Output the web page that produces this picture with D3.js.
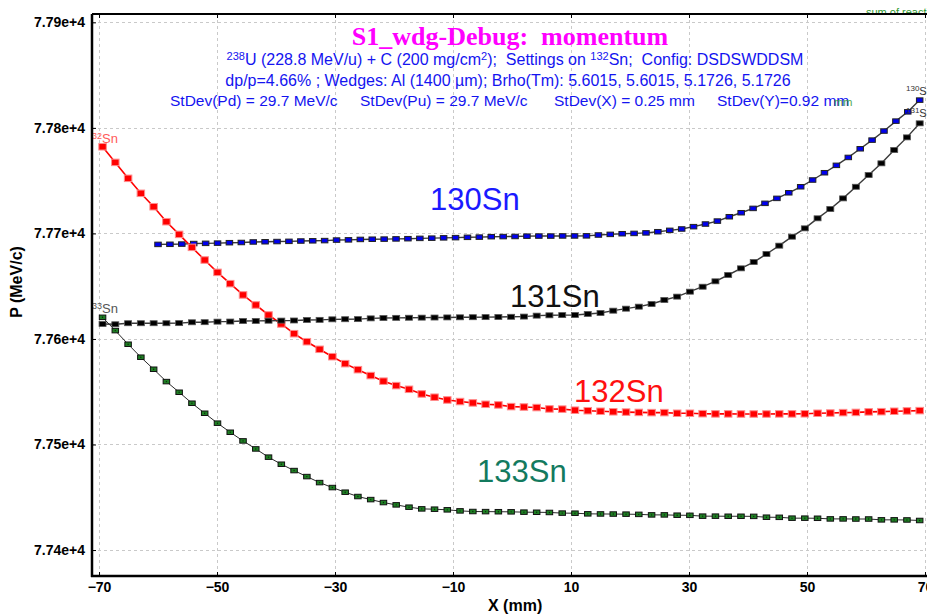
<!DOCTYPE html>
<html>
<head>
<meta charset="utf-8">
<script src="https://cdn.jsdelivr.net/npm/d3@7"></script>
<style>
  html, body { margin: 0; padding: 0; background: #fff; }
  svg { display: block; }
  text { white-space: pre; }
</style>
</head>
<body>
<svg id="chart" width="927" height="616"></svg>
<script>
// Axis ticks
const xTicks = [-70, -50, -30, -10, 10, 30, 50, 70];
const yTicks = [77400, 77500, 77600, 77700, 77800, 77900];

// X sample positions (mm) for 131Sn, 132Sn, 133Sn
const xSamples = [
  -69.40, -67.24, -65.07, -62.91, -60.74, -58.58, -56.42, -54.25, -52.09, -49.92,
  -47.76, -45.59, -43.43, -41.27, -39.10, -36.94, -34.77, -32.61, -30.45, -28.28,
  -26.12, -23.95, -21.79, -19.63, -17.46, -15.30, -13.13, -10.97, -8.81, -6.64,
  -4.48, -2.31, -0.15, 2.02, 4.18, 6.34, 8.51, 10.67, 12.84, 15.00,
  17.16, 19.33, 21.49, 23.66, 25.82, 27.99, 30.15, 32.31, 34.48, 36.64,
  38.81, 40.97, 43.13, 45.30, 47.46, 49.63, 51.79, 53.95, 56.12, 58.28,
  60.45, 62.61, 64.78, 66.94, 69.10
];

// X sample positions (mm) for 130Sn
const xSamples130 = [
  -60.00, -57.98, -55.97, -53.95, -51.93, -49.91, -47.90, -45.88, -43.86, -41.85,
  -39.83, -37.81, -35.79, -33.78, -31.76, -29.74, -27.72, -25.71, -23.69, -21.67,
  -19.66, -17.64, -15.62, -13.60, -11.59, -9.57, -7.55, -5.54, -3.52, -1.50,
  0.52, 2.53, 4.55, 6.57, 8.58, 10.60, 12.62, 14.64, 16.65, 18.67,
  20.69, 22.71, 24.72, 26.74, 28.76, 30.77, 32.79, 34.81, 36.83, 38.84,
  40.86, 42.88, 44.90, 46.91, 48.93, 50.95, 52.96, 54.98, 57.00, 59.02,
  61.03, 63.05, 65.07, 67.08, 69.10
];

// Momentum P (MeV/c) per isotope
const p130 = [
  77689.6, 77689.7, 77689.9, 77690.4, 77690.6, 77690.8, 77691.2, 77691.4, 77691.9, 77692.1,
  77692.3, 77692.5, 77692.8, 77693.0, 77693.2, 77693.7, 77693.9, 77694.3, 77694.5, 77694.6,
  77694.8, 77695.0, 77695.3, 77695.5, 77695.8, 77696.0, 77696.3, 77696.5, 77696.9, 77697.0,
  77697.1, 77697.4, 77697.5, 77697.5, 77697.6, 77697.6, 77697.7, 77698.5, 77699.1, 77699.7,
  77700.0, 77700.5, 77701.6, 77702.9, 77704.2, 77706.4, 77708.9, 77711.7, 77715.8, 77719.6,
  77723.7, 77728.5, 77733.2, 77738.5, 77744.2, 77750.6, 77757.5, 77764.5, 77772.0, 77780.2,
  77788.4, 77797.0, 77806.4, 77815.2, 77826.3
];
const p131 = [
  77614.2, 77613.9, 77614.9, 77614.9, 77614.9, 77614.9, 77615.0, 77615.8, 77615.9, 77616.4,
  77616.5, 77617.0, 77617.1, 77617.3, 77617.4, 77617.5, 77618.0, 77618.1, 77618.6, 77618.7,
  77618.8, 77619.5, 77619.8, 77620.0, 77620.1, 77620.2, 77620.3, 77620.4, 77620.5, 77620.6,
  77620.7, 77620.8, 77621.0, 77621.2, 77622.1, 77622.4, 77622.6, 77622.7, 77623.7, 77624.6,
  77626.8, 77628.7, 77630.6, 77633.1, 77636.9, 77640.1, 77644.8, 77649.5, 77654.6, 77660.6,
  77666.9, 77672.9, 77680.5, 77688.4, 77696.9, 77704.8, 77714.3, 77723.1, 77733.2, 77744.2,
  77755.3, 77766.4, 77779.0, 77791.0, 77804.3
];
const p132 = [
  77782.1, 77767.3, 77752.2, 77738.0, 77725.3, 77711.1, 77699.1, 77686.8, 77674.8, 77663.1,
  77652.4, 77641.7, 77632.2, 77622.7, 77614.2, 77605.0, 77597.4, 77590.2, 77583.2, 77576.6,
  77570.9, 77565.3, 77560.0, 77555.8, 77552.3, 77547.9, 77544.8, 77542.2, 77540.7, 77539.4,
  77538.1, 77537.5, 77535.9, 77535.5, 77535.0, 77533.7, 77533.5, 77532.5, 77532.0, 77531.5,
  77531.0, 77530.7, 77530.4, 77530.2, 77530.2, 77529.6, 77529.6, 77529.2, 77529.0, 77529.0,
  77528.9, 77528.9, 77528.9, 77529.0, 77529.0, 77529.1, 77529.6, 77529.8, 77530.2, 77530.4,
  77530.9, 77531.1, 77531.5, 77531.8, 77532.1
];
const p133 = [
  77620.5, 77607.9, 77595.0, 77582.7, 77571.3, 77559.6, 77549.5, 77539.1, 77529.6, 77520.2,
  77511.6, 77503.4, 77495.8, 77488.0, 77481.3, 77475.3, 77469.6, 77463.9, 77459.2, 77454.8,
  77450.7, 77447.8, 77445.0, 77442.8, 77440.6, 77439.0, 77438.7, 77438.1, 77437.1, 77436.5,
  77436.4, 77436.3, 77436.2, 77435.9, 77435.8, 77435.6, 77435.0, 77434.9, 77434.3, 77434.2,
  77434.1, 77434.0, 77433.8, 77433.3, 77433.3, 77433.0, 77432.9, 77432.1, 77432.1, 77432.0,
  77432.0, 77431.9, 77431.1, 77431.0, 77430.2, 77430.2, 77430.1, 77429.5, 77429.5, 77429.4,
  77429.4, 77428.6, 77428.6, 77428.5, 77428.0
];

const SANS = "'Liberation Sans', Arial, sans-serif";
const svg = d3.select("#chart");
const plot = { left: 92, right: 926, top: 14, bottom: 576 };

const x = d3.scaleLinear().domain([-71.19, 70.17]).range([plot.left, plot.right]);
const y = d3.scaleLinear().domain([77375.4, 77907.9]).range([plot.bottom, plot.top]);

svg.append("rect").attr("width", 927).attr("height", 616).attr("fill", "#fff");

const defs = svg.append("defs");
defs.append("clipPath").attr("id", "plotClip")
  .append("rect").attr("x", plot.left + 1).attr("y", plot.top + 1)
  .attr("width", 927 - plot.left).attr("height", plot.bottom - plot.top - 2);
defs.append("clipPath").attr("id", "topClip")
  .append("rect").attr("x", 0).attr("y", 0).attr("width", 927).attr("height", 13);

// small caption peeking above the frame
svg.append("text").attr("x", 866).attr("y", 16)
  .attr("clip-path", "url(#topClip)")
  .attr("font-family", SANS).attr("font-size", 11).attr("fill", "#2f9a2f")
  .text("sum of reactions");

// dashed grid
const grid = svg.append("g").attr("stroke", "#c9c9c9").attr("stroke-dasharray", "3,3").attr("stroke-width", 1);
grid.selectAll("line.v").data(xTicks).join("line").attr("class", "v")
  .attr("x1", d => Math.round(x(d)) + 0.5).attr("x2", d => Math.round(x(d)) + 0.5)
  .attr("y1", plot.top).attr("y2", plot.bottom);
grid.selectAll("line.h").data(yTicks).join("line").attr("class", "h")
  .attr("y1", d => Math.round(y(d)) + 0.5).attr("y2", d => Math.round(y(d)) + 0.5)
  .attr("x1", plot.left).attr("x2", plot.right);

// titles
svg.append("text").attr("x", 510).attr("y", 45).attr("text-anchor", "middle")
  .attr("font-family", "'Liberation Serif', 'Times New Roman', serif")
  .attr("font-weight", "bold").attr("font-size", 26).attr("fill", "#ff00ff")
  .text("S1_wdg-Debug:  momentum");

const BLUE = "#1414f0";
const sub = svg.append("g").attr("font-family", SANS).attr("font-size", 16).attr("fill", BLUE);

function richLine(parent, xPos, yPos, parts) {
  const t = parent.append("text").attr("x", xPos).attr("y", yPos).attr("text-anchor", "middle");
  let shifted = false;
  parts.forEach(p => {
    const sp = t.append("tspan").text(p.t);
    if (p.sup && !shifted) { sp.attr("dy", -5).attr("font-size", 11); shifted = true; }
    else if (p.sup) { sp.attr("font-size", 11); }
    else if (shifted) { sp.attr("dy", 5); shifted = false; }
  });
  return t;
}
richLine(sub, 515, 65, [
  { t: "238", sup: true }, { t: "U (228.8 MeV/u) + C (200 mg/cm" }, { t: "2", sup: true },
  { t: ");  Settings on " }, { t: "132", sup: true }, { t: "Sn;  Config: DSDSWDDSM" }
]);
sub.append("text").attr("x", 508).attr("y", 86).attr("text-anchor", "middle")
  .text("dp/p=4.66% ; Wedges: Al (1400 µm); Brho(Tm): 5.6015, 5.6015, 5.1726, 5.1726");
const stdevs = [
  [170, "StDev(Pd) = 29.7 MeV/c"],
  [360, "StDev(Pu) = 29.7 MeV/c"],
  [554, "StDev(X) = 0.25 mm"],
  [717, "StDev(Y)=0.92 mm"]
];
sub.selectAll("text.sd").data(stdevs).join("text").attr("class", "sd")
  .attr("x", d => d[0]).attr("y", 106).attr("font-size", 15.5).text(d => d[1]);
svg.append("text").attr("x", 834).attr("y", 106)
  .attr("font-family", SANS).attr("font-size", 11).attr("fill", "#2f9a2f").attr("opacity", 0.85)
  .text("mm");

// series
const series = [
  { xs: xSamples130, ps: p130, line: "#3a3a3a", lw: 1.4, fill: "#0000ee", stroke: "#222", sw: 1, w: 6.5, h: 4.5, dot: false },
  { xs: xSamples, ps: p132, line: "#ff0000", lw: 1.6, fill: "#ff0000", stroke: "#ff8c8c", sw: 1, w: 7.5, h: 6.5, dot: false },
  { xs: xSamples, ps: p131, line: "#3a3a3a", lw: 1.4, fill: "#000000", stroke: "#555", sw: 0.8, w: 7, h: 5, dot: false },
  { xs: xSamples, ps: p133, line: "#2a2a2a", lw: 1, fill: "#1f7f24", stroke: "#111", sw: 1, w: 6.5, h: 4.5, dot: true }
];
const lineGen = d3.line().x(d => x(d[0])).y(d => y(d[1]));
const dataLayer = svg.append("g").attr("clip-path", "url(#plotClip)");
series.forEach(s => {
  const pts = d3.zip(s.xs, s.ps);
  const g = dataLayer.append("g");
  g.append("path").datum(pts).attr("d", lineGen)
    .attr("fill", "none").attr("stroke", s.line).attr("stroke-width", s.lw);
  g.selectAll("rect").data(pts).join("rect")
    .attr("x", d => x(d[0]) - s.w / 2).attr("y", d => y(d[1]) - s.h / 2)
    .attr("width", s.w).attr("height", s.h)
    .attr("fill", s.fill).attr("stroke", s.stroke).attr("stroke-width", s.sw);
  if (s.dot) {
    g.selectAll("circle").data(pts).join("circle")
      .attr("cx", d => x(d[0])).attr("cy", d => y(d[1])).attr("r", 0.7).attr("fill", "#0a2a0a");
  }
});

// end-of-curve isotope tags
function tag(parent, xPos, yPos, mass, color, supSize, size) {
  const t = parent.append("text").attr("x", xPos).attr("y", yPos)
    .attr("font-family", SANS).attr("fill", color).attr("font-size", size);
  t.append("tspan").attr("font-size", supSize).attr("dy", -4).text(mass);
  t.append("tspan").attr("dy", 4).text("Sn");
}
tag(dataLayer, 87, 143, "132", "#ff5a5a", 9, 13);
tag(dataLayer, 87, 313, "133", "#555", 9, 13);
tag(dataLayer, 906, 95, "130", "#333", 8, 11);
tag(dataLayer, 906, 117, "131", "#333", 8, 11);

// isotope labels
const labels = [
  { t: "130Sn", x: 430, y: 210, c: "#1a1aff" },
  { t: "131Sn", x: 510, y: 307, c: "#111" },
  { t: "132Sn", x: 574, y: 402, c: "#ff1010" },
  { t: "133Sn", x: 477, y: 482, c: "#137a5e" }
];
svg.selectAll("text.iso").data(labels).join("text").attr("class", "iso")
  .attr("x", d => d.x).attr("y", d => d.y).attr("fill", d => d.c)
  .attr("font-family", SANS).attr("font-size", 31).text(d => d.t);

// axes
function styleAxis(g, width) {
  g.attr("font-family", SANS).attr("font-size", 14).attr("font-weight", "bold");
  g.select(".domain").attr("stroke", "#000").attr("stroke-width", width);
  g.selectAll(".tick line").attr("stroke", "#000").attr("stroke-width", 1);
  g.selectAll(".tick text").attr("fill", "#000");
}
svg.append("g").attr("transform", `translate(${plot.left},0)`)
  .call(d3.axisLeft(y).tickValues(yTicks).tickFormat(d3.format(".2e"))
    .tickSizeInner(-4).tickSizeOuter(0).tickPadding(7))
  .call(g => styleAxis(g, 2.5))
  .call(g => g.select(".domain").attr("d", `M0,${plot.top}V${plot.bottom + 1}`));
svg.append("g").attr("transform", `translate(0,${plot.bottom})`)
  .call(d3.axisBottom(x).tickValues(xTicks).tickSizeInner(-4).tickSizeOuter(0).tickPadding(6))
  .call(g => styleAxis(g, 2.5))
  .call(g => g.select(".domain").attr("d", `M${plot.left - 1},0H927`));
svg.append("g").attr("transform", `translate(0,${plot.top})`)
  .call(d3.axisTop(x).tickValues(xTicks).tickFormat("").tickSizeInner(-4).tickSizeOuter(0))
  .call(g => styleAxis(g, 2))
  .call(g => g.select(".domain").attr("d", `M${plot.left},0H927`));

// axis titles
svg.append("text").attr("x", 488).attr("y", 611)
  .attr("font-family", SANS).attr("font-weight", "bold").attr("font-size", 16).attr("fill", "#000")
  .text("X (mm)");
svg.append("text").attr("transform", "translate(22,282) rotate(-90)").attr("text-anchor", "middle")
  .attr("font-family", SANS).attr("font-weight", "bold").attr("font-size", 16).attr("fill", "#000")
  .text("P (MeV/c)");
</script>
</body>
</html>
